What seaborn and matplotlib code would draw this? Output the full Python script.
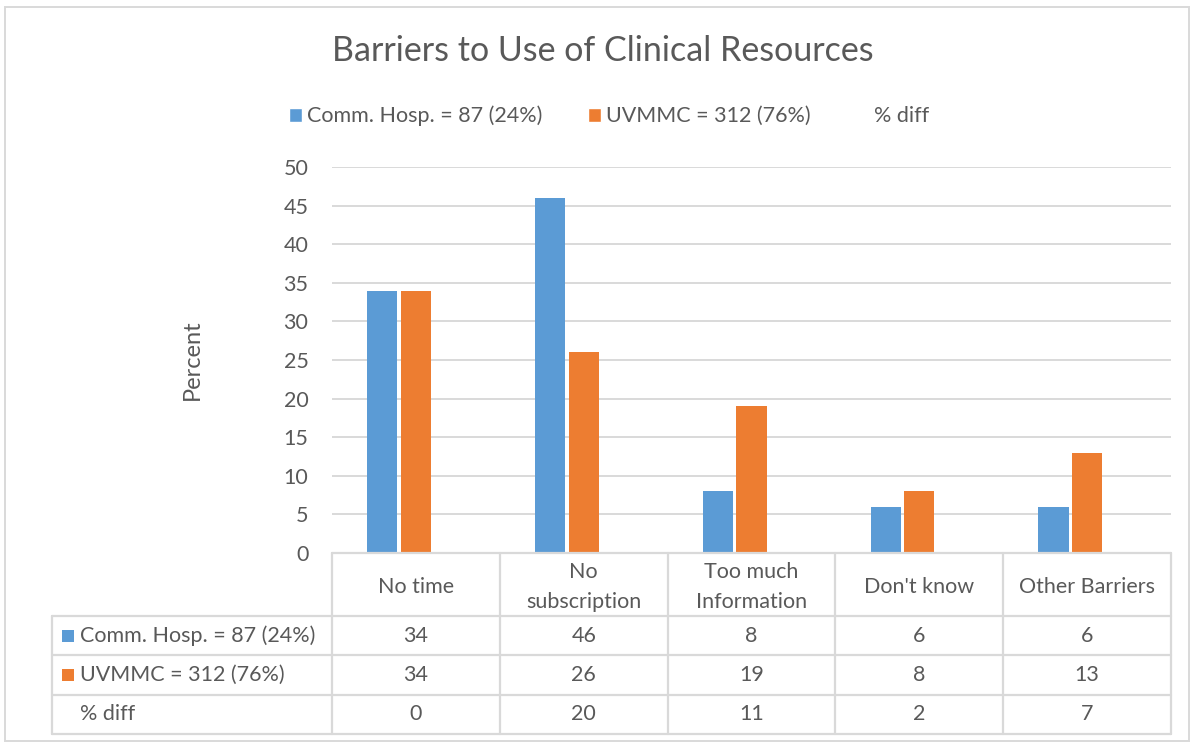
import pandas as pd
import matplotlib
matplotlib.use("Agg")
import matplotlib.pyplot as plt
import matplotlib.transforms as mtransforms
from matplotlib.patches import Patch, Rectangle
from matplotlib.lines import Line2D
import seaborn as sns

categories = ["No time", "No\nsubscription", "Too much\nInformation", "Don't know", "Other Barriers"]
series = ["Comm. Hosp. = 87 (24%)", "UVMMC = 312 (76%)", "% diff"]
comm_hosp = [34, 46, 8, 6, 6]
uvmmc = [34, 26, 19, 8, 13]
pct_diff = [0, 20, 11, 2, 7]
y_ticks = [0, 5, 10, 15, 20, 25, 30, 35, 40, 45, 50]

BLUE = "#5B9BD5"
ORANGE = "#ED7D31"
TEXT = "#595959"
GRID = "#D9D9D9"
FS = 15.5

sns.set_style("white")
plt.rcParams["font.family"] = ["Lato", "DejaVu Sans"]

df = pd.DataFrame({
    "category": categories * 3,
    "series": [series[0]] * 5 + [series[1]] * 5 + [series[2]] * 5,
    "value": comm_hosp + uvmmc + pct_diff,
})

W, H = 1194, 743
fig = plt.figure(figsize=(W / 100, H / 100), dpi=100)
ax = fig.add_axes([332 / W, 1 - 553 / H, (1171 - 332) / W, (553 - 167) / H])

sns.barplot(data=df, x="category", y="value", hue="series", hue_order=series,
            palette=[BLUE, ORANGE, "white"], width=0.6, gap=0.1, ax=ax,
            legend=False, saturation=1, edgecolor="none")
# the % diff series has no bars in the chart, only in the table
for bar in ax.containers[2]:
    bar.set_visible(False)

ax.set_xlim(-0.5, len(categories) - 0.5)
ax.set_ylim(0, 50)
ax.set_yticks(y_ticks)
ax.yaxis.grid(True, color=GRID, lw=1.4)
ax.set_axisbelow(True)
for s in ax.spines.values():
    s.set_visible(False)
ax.tick_params(axis="y", length=0, pad=17, labelsize=FS, labelcolor=TEXT)
ax.set_xticks([])
ax.set_xlabel("")
ax.set_ylabel("Percent", fontsize=17, color=TEXT, labelpad=58)

fig.text(603 / W, 1 - 51 / H, "Barriers to Use of Clinical Resources",
         ha="center", va="center", fontsize=24.5, color=TEXT)

handles = [Patch(facecolor=BLUE), Patch(facecolor=ORANGE), Patch(facecolor="none", edgecolor="none")]
fig.legend(handles, series, loc="center", bbox_to_anchor=(609 / W, 1 - 116 / H), ncol=3,
           frameon=False, fontsize=FS, labelcolor=TEXT, handlelength=0.6, handleheight=0.6,
           handletextpad=0.25, columnspacing=2.1)

# data table below the axis
tr = mtransforms.blended_transform_factory(ax.transData, fig.transFigure)
ftr = fig.transFigure
fy = lambda p: 1 - p / H
rows_y = [553, 616, 655, 695, 734]
n = len(categories)

for y in rows_y:
    x0 = 332 / W if y == 553 else 52 / W
    fig.add_artist(Line2D([x0, 1171 / W], [fy(y), fy(y)], color=GRID, lw=1.6, transform=ftr))
for i in range(n + 1):
    fig.add_artist(Line2D([i - 0.5, i - 0.5], [fy(553), fy(734)], color=GRID, lw=1.6, transform=tr))
fig.add_artist(Line2D([52 / W, 52 / W], [fy(616), fy(734)], color=GRID, lw=1.6, transform=ftr))

for i, cat in enumerate(categories):
    fig.text(i, fy(587), cat, transform=tr, ha="center", va="center", fontsize=FS,
             color=TEXT, linespacing=1.6)

table_rows = [comm_hosp, uvmmc, pct_diff]
row_colors = [BLUE, ORANGE, None]
for r, (vals, col) in enumerate(zip(table_rows, row_colors)):
    yc = (rows_y[r + 1] + rows_y[r + 2]) / 2
    for i, v in enumerate(vals):
        fig.text(i, fy(yc), str(v), transform=tr, ha="center", va="center", fontsize=FS, color=TEXT)
    if col is not None:
        fig.add_artist(Rectangle((62 / W, fy(yc + 6)), 12 / W, 12 / H, facecolor=col,
                                 edgecolor="none", transform=ftr))
    fig.text(80 / W, fy(yc), series[r], ha="left", va="center", fontsize=FS, color=TEXT)

# outer chart border
fig.add_artist(Rectangle((5 / W, 2 / H), 1184 / W, 734 / H, facecolor="none",
                         edgecolor=GRID, lw=1.4, transform=ftr))

fig.savefig("out.png", dpi=100)
